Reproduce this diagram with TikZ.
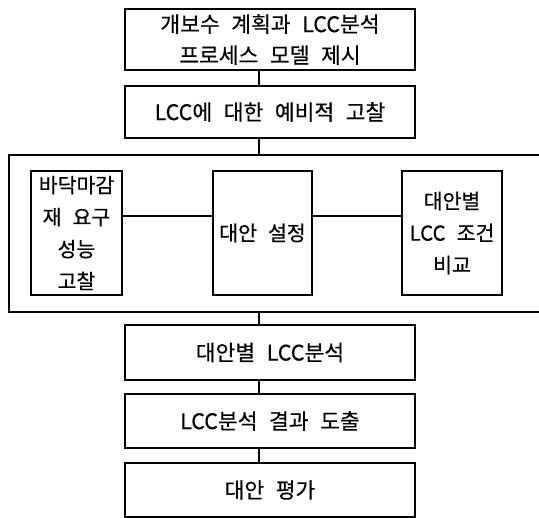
\documentclass[tikz,border=0pt]{standalone}
\usepackage{fontspec}
\setmainfont[WordSpace=2.4,FakeBold=0.4]{Noto Sans CJK KR}
\begin{document}
\begin{tikzpicture}[x=1pt,y=-1pt,
  box/.style={draw=black,line width=1.8pt,fill=white,inner sep=0pt,align=center,
    font=\fontsize{21.5}{31}\selectfont},
  wide/.style={box,minimum width=290pt},
  inner/.style={box,minimum height=124pt,font=\fontsize{20.5}{32}\selectfont},
  link/.style={draw=black,line width=1.8pt}]
\clip (0,0) rectangle (539,518);
\fill[white] (0,0) rectangle (539,518);
\node[wide,minimum height=61pt] (plan) at (270,39.5) {개보수 계획과 LCC분석\\프로세스 모델 제시};
\node[wide,minimum height=52pt] (pre) at (270,112) {LCC에 대한 예비적 고찰};
\node[draw=black,line width=2.5pt,minimum width=551pt,minimum height=157pt,inner sep=0pt] (frame) at (284.5,233.5) {};
\node[inner,minimum width=91pt] (perf) at (76.5,233) {바닥마감\\재 요구\\성능\\고찰};
\node[inner,minimum width=99pt] (alt) at (262.5,233) {대안 설정};
\node[inner,minimum width=100pt] (cmp) at (452,233) {대안별\\LCC 조건\\비교};
\node[wide,minimum height=55pt] (ana) at (270,352.5) {대안별 LCC분석};
\node[wide,minimum height=54pt] (res) at (270,421) {LCC분석 결과 도출};
\node[wide,minimum height=54pt] (eval) at (270,490) {대안 평가};
\coordinate (spine) at (259,0);
\coordinate (hy) at (0,216);
\draw[link] (spine |- plan.south) -- (spine |- pre.north);
\draw[link] (spine |- pre.south) -- (spine |- frame.north);
\draw[link] (spine |- frame.south) -- (spine |- ana.north);
\draw[link] (spine |- ana.south) -- (spine |- res.north);
\draw[link] (spine |- res.south) -- (spine |- eval.north);
\draw[link] (perf.east |- hy) -- (alt.west |- hy);
\draw[link] (alt.east |- hy) -- (cmp.west |- hy);
\end{tikzpicture}
\end{document}
